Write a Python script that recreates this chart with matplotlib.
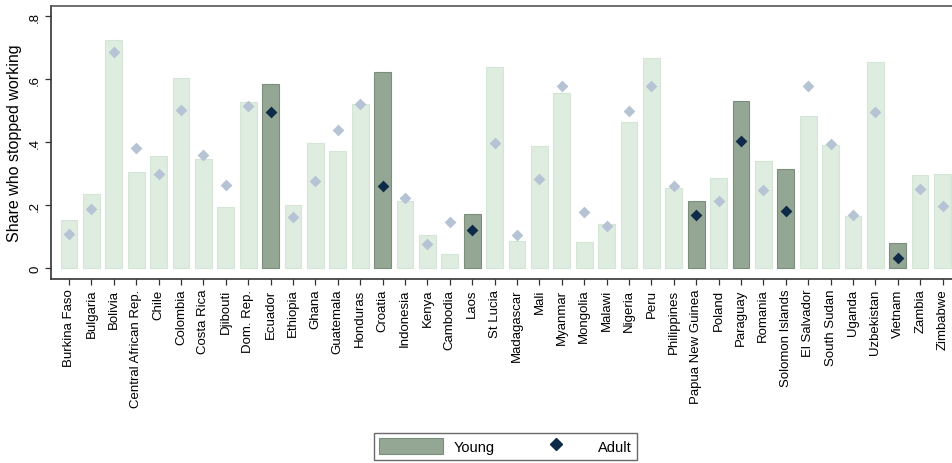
import matplotlib
matplotlib.use("Agg")
import matplotlib.pyplot as plt
from matplotlib.patches import Patch
from matplotlib.lines import Line2D

plt.rcParams['font.family'] = ['Liberation Sans', 'DejaVu Sans']

countries = ["Burkina Faso", "Bulgaria", "Bolivia", "Central African Rep.", "Chile",
             "Colombia", "Costa Rica", "Djibouti", "Dom. Rep.", "Ecuador",
             "Ethiopia", "Ghana", "Guatemala", "Honduras", "Croatia",
             "Indonesia", "Kenya", "Cambodia", "Laos", "St Lucia",
             "Madagascar", "Mali", "Myanmar", "Mongolia", "Malawi",
             "Nigeria", "Peru", "Philippines", "Papua New Guinea", "Poland",
             "Paraguay", "Romania", "Solomon Islands", "El Salvador", "South Sudan",
             "Uganda", "Uzbekistan", "Vietnam", "Zambia", "Zimbabwe"]

young = [0.153, 0.236, 0.725, 0.306, 0.357, 0.603, 0.347, 0.196, 0.528, 0.586,
         0.202, 0.399, 0.373, 0.521, 0.624, 0.213, 0.105, 0.044, 0.172, 0.638,
         0.088, 0.388, 0.557, 0.082, 0.142, 0.463, 0.669, 0.255, 0.213, 0.286,
         0.532, 0.340, 0.315, 0.483, 0.391, 0.165, 0.654, 0.079, 0.296, 0.299]

adult = [0.110, 0.189, 0.688, 0.382, 0.301, 0.503, 0.361, 0.265, 0.516, 0.495,
         0.162, 0.277, 0.439, 0.522, 0.260, 0.222, 0.076, 0.147, 0.123, 0.399,
         0.105, 0.284, 0.580, 0.180, 0.133, 0.500, 0.580, 0.261, 0.170, 0.213,
         0.405, 0.249, 0.181, 0.578, 0.395, 0.169, 0.496, 0.032, 0.252, 0.197]

highlighted = ["Ecuador", "Croatia", "Laos", "Papua New Guinea", "Paraguay",
               "Solomon Islands", "Vietnam"]

yticks = [0, 0.2, 0.4, 0.6, 0.8]
yticklabels = ["0", ".2", ".4", ".6", ".8"]

LIGHT_BAR = "#dfede0"
LIGHT_EDGE = "#d3e5d4"
DARK_BAR = "#94a794"
DARK_EDGE = "#7b8e7b"
LIGHT_DIA = "#b5c3d5"
DARK_DIA = "#0e2a48"

fig = plt.figure(figsize=(9.52, 4.64), dpi=100)
ax = fig.add_axes([0.0533, 0.3966, 0.956, 0.589])

x = list(range(len(countries)))
hl = [c in highlighted for c in countries]
bar_colors = [DARK_BAR if h else LIGHT_BAR for h in hl]
edge_colors = [DARK_EDGE if h else LIGHT_EDGE for h in hl]
ax.bar(x, young, width=0.745, color=bar_colors, edgecolor=edge_colors, linewidth=0.8, zorder=2)

xl = [i for i, h in zip(x, hl) if not h]
yl = [a for a, h in zip(adult, hl) if not h]
xd = [i for i, h in zip(x, hl) if h]
yd = [a for a, h in zip(adult, hl) if h]
ax.scatter(xl, yl, marker="D", s=36, color=LIGHT_DIA, linewidths=0, zorder=3)
ax.scatter(xd, yd, marker="D", s=36, color=DARK_DIA, linewidths=0, zorder=3)

ax.set_xlim(-0.817, 39.817)
ax.set_ylim(-0.034, 0.834)
ax.set_xticks(x)
ax.set_xticklabels(countries, rotation=90, fontsize=9.5, va="top", ha="center")
ax.set_yticks(yticks)
ax.set_yticklabels(yticklabels, rotation=90, fontsize=9.5, va="center")
ax.tick_params(axis="both", direction="out", length=4, width=0.9, color="#333333", pad=3)
ax.set_ylabel("Share who stopped working", fontsize=11.5, labelpad=5)

for s in ax.spines.values():
    s.set_color("#555555")
    s.set_linewidth(1.2)
ax.spines["left"].set_color("#333333")
ax.spines["bottom"].set_color("#333333")

handles = [Patch(facecolor=DARK_BAR, edgecolor=DARK_EDGE, linewidth=0.8),
           Line2D([], [], marker="D", linestyle="none", color=DARK_DIA, markersize=6)]
leg = fig.legend(handles, ["Young", "Adult"], ncol=2, loc="center",
                 bbox_to_anchor=(0.531, 0.0365), fontsize=10.5,
                 frameon=True, fancybox=False, edgecolor="#444444",
                 handlelength=4.4, handleheight=1.4, handletextpad=0.7,
                 columnspacing=2.0, borderpad=0.35)
leg.get_frame().set_linewidth(1.0)

fig.savefig("out.png", dpi=100)
